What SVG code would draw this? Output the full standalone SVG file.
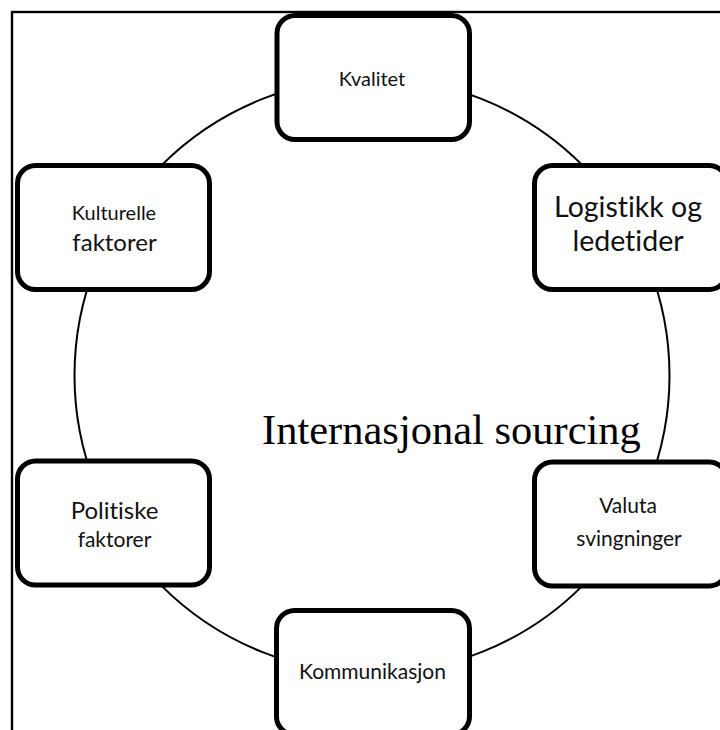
<svg xmlns="http://www.w3.org/2000/svg" width="720" height="730" viewBox="0 0 720 730">
<style>
.box{fill:#fff;stroke:#000;stroke-width:5}
.lbl{font-family:Lato,"Open Sans","Liberation Sans",sans-serif;fill:#111;text-anchor:middle;font-variant-ligatures:none;font-feature-settings:"liga" 0}
.ring{fill:none;stroke:#000;stroke-width:2}
</style>
<rect x="0" y="0" width="720" height="730" fill="#fff"/>
<rect id="frame" x="12" y="12" width="740" height="760" fill="none" stroke="#000" stroke-width="2.4"/>
<g id="connectors">
<circle class="ring" cx="372" cy="375.5" r="297.5"/>
</g>
<g id="center-label">
<text x="262" y="444" font-family="'Liberation Serif','Times New Roman',serif" font-size="42.5" fill="#000">Internasjonal sourcing</text>
</g>
<g id="kvalitet">
<rect class="box" x="277" y="15.5" width="192.5" height="124" rx="18"/>
<text class="lbl" x="372" y="86" font-size="20">Kvalitet</text>
</g>
<g id="logistikk">
<rect class="box" x="534.5" y="165.5" width="192.5" height="124" rx="18"/>
<text class="lbl" x="628" y="217" font-size="28.5">Logistikk og</text>
<text class="lbl" x="628" y="251" font-size="28.5">ledetider</text>
</g>
<g id="valuta">
<rect class="box" x="534.5" y="462" width="192.5" height="124" rx="18"/>
<text class="lbl" x="628" y="512.5" font-size="21">Valuta</text>
<text class="lbl" x="629" y="546" font-size="21">svingninger</text>
</g>
<g id="kommunikasjon">
<rect class="box" x="276.5" y="610.5" width="193" height="124" rx="18"/>
<text class="lbl" x="372.5" y="679" font-size="21">Kommunikasjon</text>
</g>
<g id="politiske">
<rect class="box" x="17.5" y="461" width="192" height="124" rx="18"/>
<text class="lbl" x="114.5" y="518.5" font-size="24">Politiske</text>
<text class="lbl" x="114.5" y="547" font-size="21">faktorer</text>
</g>
<g id="kulturelle">
<rect class="box" x="17.5" y="165.5" width="192" height="124" rx="18"/>
<text class="lbl" x="114" y="220" font-size="20">Kulturelle</text>
<text class="lbl" x="114.5" y="250.5" font-size="24">faktorer</text>
</g>
</svg>
